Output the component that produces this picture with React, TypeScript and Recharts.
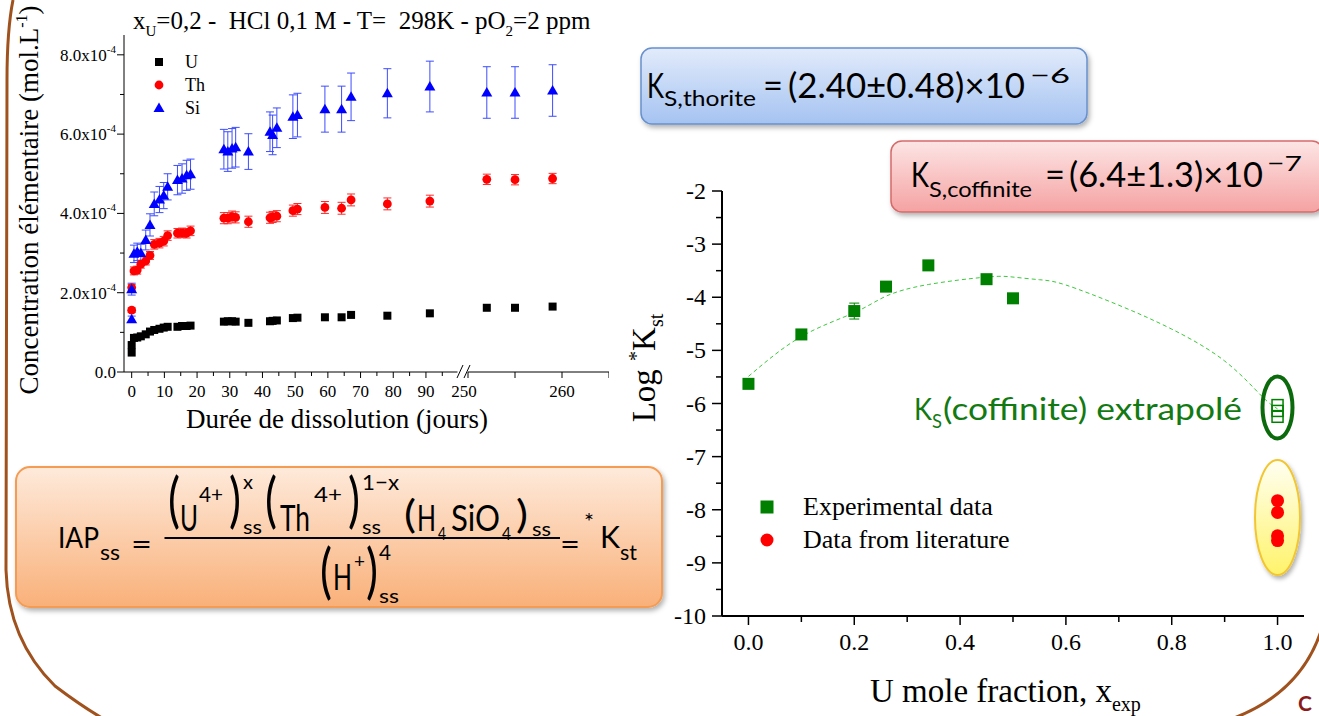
import React from "react";
import {
  ScatterChart,
  ComposedChart,
  Scatter,
  Line,
  XAxis,
  YAxis,
  ErrorBar,
  Legend,
} from "recharts";

const SERIF = "'Liberation Serif', 'Times New Roman', serif";
const SANS = "Lato, 'Open Sans', sans-serif";

// ---------- left panel: dissolution kinetics (concentrations in 1e-4 mol/L)
const days = [0, 0, 0.7, 1.7, 2.8, 4.3, 5.6, 6.9, 8.5, 9.8, 11, 14, 15.4, 16.8, 18, 28.2, 29.4, 30.7, 31.8, 35.7, 42.3, 43.1, 44.4, 49.3, 50.7, 59.1, 64.2, 67.1, 78.2, 91.2];
const uConc = [0.49, 0.68, 0.86, 0.87, 0.9, 0.95, 1.02, 1.06, 1.09, 1.12, 1.14, 1.14, 1.16, 1.16, 1.17, 1.27, 1.28, 1.28, 1.27, 1.24, 1.28, 1.29, 1.3, 1.36, 1.37, 1.38, 1.38, 1.44, 1.42, 1.48];
const thConc = [1.56, 2.13, 2.55, 2.57, 2.72, 2.8, 2.94, 3.22, 3.25, 3.3, 3.44, 3.5, 3.51, 3.5, 3.56, 3.88, 3.88, 3.92, 3.9, 3.79, 3.89, 3.91, 3.93, 4.07, 4.11, 4.15, 4.13, 4.34, 4.24, 4.31];
const thErr = [0.06, 0.08, 0.1, 0.1, 0.1, 0.1, 0.1, 0.12, 0.12, 0.12, 0.12, 0.12, 0.12, 0.12, 0.12, 0.14, 0.14, 0.14, 0.14, 0.14, 0.14, 0.14, 0.14, 0.14, 0.14, 0.15, 0.15, 0.15, 0.15, 0.15];
const siConc = [1.33, 2.09, 2.98, 3.03, 3.0, 3.33, 3.71, 4.24, 4.35, 4.45, 4.67, 4.84, 4.88, 4.96, 4.99, 5.62, 5.56, 5.64, 5.67, 5.56, 6.06, 5.98, 6.16, 6.44, 6.48, 6.63, 6.63, 6.94, 7.03, 7.2];
const siErr = [0.08, 0.15, 0.22, 0.22, 0.22, 0.25, 0.28, 0.3, 0.33, 0.33, 0.33, 0.37, 0.37, 0.38, 0.38, 0.5, 0.5, 0.5, 0.5, 0.45, 0.5, 0.5, 0.5, 0.55, 0.55, 0.58, 0.58, 0.6, 0.62, 0.64];

const lateDays = [252, 255, 259];
const lateU = [1.62, 1.62, 1.65];
const lateTh = [4.86, 4.85, 4.88];
const lateThErr = [0.13, 0.13, 0.13];
const lateSi = [7.05, 7.05, 7.1];
const lateSiErr = [0.65, 0.65, 0.65];

const concTicks = [0, 1, 2, 3, 4, 5, 6, 7, 8];
const dayTicks = [0, 5, 10, 15, 20, 25, 30, 35, 40, 45, 50, 55, 60, 65, 70, 75, 80, 85, 90, 95];
const lateTicks = [250, 255, 260, 265];
const elementNames = ["U", "Th", "Si"];

// ---------- right panel: log *Kst vs U mole fraction
const expX = [0, 0.1, 0.2, 0.26, 0.34, 0.45, 0.5];
const expLogK = [-5.63, -4.7, -4.26, -3.8, -3.4, -3.66, -4.02];
const expErr = [0.05, 0.05, 0.15, 0.05, 0.08, 0.08, 0.03];
const extrapX = [1, 1, 1];
const extrapLogK = [-6.03, -6.14, -6.25];
const litX = [1, 1, 1, 1];
const litLogK = [-7.83, -8.05, -8.49, -8.58];
const fitX = [0, 0.1, 0.2, 0.26, 0.34, 0.45, 0.5, 0.55, 0.6, 0.7, 0.8, 0.9, 0.97, 1.0];
const fitLogK = [-5.49, -4.74, -4.29, -3.98, -3.76, -3.62, -3.62, -3.67, -3.77, -4.15, -4.6, -5.2, -5.86, -6.1];
const seriesNames = ["Experimental data", "Data from literature"];

const fracTicks = [0, 0.1, 0.2, 0.3, 0.4, 0.5, 0.6, 0.7, 0.8, 0.9, 1.0];
const logTicks = [-10, -9.5, -9, -8.5, -8, -7.5, -7, -6.5, -6, -5.5, -5, -4.5, -4, -3.5, -3, -2.5, -2];

const rows = (xs: number[], ys: number[], es?: number[]) =>
  xs.map((d, i) => ({ day: d, v: ys[i], e: es ? es[i] : 0 }));
const xyRows = (xs: number[], ys: number[], es?: number[]) =>
  xs.map((x, i) => ({ x, y: ys[i], e: es ? es[i] : 0 }));

const BLACK_SQ = (p: any) => <rect x={p.cx - 4} y={p.cy - 4} width={8} height={8} fill="#000" />;
const RED_DOT = (p: any) => <circle cx={p.cx} cy={p.cy} r={4.4} fill="#ff0000" />;
const BLUE_TRI = (p: any) => (
  <polygon points={`${p.cx},${p.cy - 5.5} ${p.cx + 5.5},${p.cy + 4} ${p.cx - 5.5},${p.cy + 4}`} fill="#0000ff" />
);
const GREEN_SQ = (p: any) => <rect x={p.cx - 6} y={p.cy - 6} width={12} height={12} fill="#008000" />;
const HOLLOW_SQ = (p: any) => (
  <rect x={p.cx - 5.5} y={p.cy - 5.5} width={11} height={11} fill="none" stroke="#008000" strokeWidth={1.5} />
);
const BIG_RED = (p: any) => <circle cx={p.cx} cy={p.cy} r={6.5} fill="#ff0000" />;

function Mark({ type, color, big }: { type: string; color: string; big?: boolean }) {
  if (type === "square") {
    const s = big ? 13 : 8;
    return <rect x={9 - s / 2} y={9 - s / 2} width={s} height={s} fill={color} />;
  }
  if (type === "triangle") return <polygon points="9,3.5 14.5,13 3.5,13" fill={color} />;
  return <circle cx={9} cy={9} r={big ? 6.5 : 4.4} fill={color} />;
}

// legend content: keeps only the named series, in the given order
function makeLegend(order: string[], rowH: number, fontSize: number, gap: number, big?: boolean) {
  return (props: any) => {
    const items = (props.payload || [])
      .filter((p: any) => order.includes(p.value))
      .sort((a: any, b: any) => order.indexOf(a.value) - order.indexOf(b.value));
    return (
      <div>
        {items.map((p: any) => (
          <div key={p.value} style={{ display: "flex", alignItems: "center", height: rowH }}>
            <svg width={18} height={18}>
              <Mark type={p.type} color={p.color} big={big} />
            </svg>
            <span style={{ marginLeft: gap, fontFamily: SERIF, fontSize, color: "#000", lineHeight: 1 }}>{p.value}</span>
          </div>
        ))}
      </div>
    );
  };
}

function ConcTick(props: any) {
  const { x, y, payload } = props;
  const v = payload.value as number;
  const ax = x + 10;
  const major = v % 2 === 0;
  return (
    <g>
      <line x1={ax - (major ? 7 : 4)} x2={ax} y1={y} y2={y} stroke="#000" />
      {major && (
        <text x={ax - 8} y={y + 6} textAnchor="end" fontFamily={SERIF} fontSize={17} fill="#000">
          {v === 0 ? "0.0" : (
            <>
              {v.toFixed(1)}x10<tspan dy={-8} fontSize={11}>-4</tspan>
            </>
          )}
        </text>
      )}
    </g>
  );
}

function DayTick(props: any) {
  const { x, y, payload } = props;
  const v = payload.value as number;
  const ay = y - 9;
  const major = v % 10 === 0;
  return (
    <g>
      <line x1={x} x2={x} y1={ay} y2={ay + (major ? 6 : 4)} stroke="#000" />
      {major && v <= 90 && (
        <text x={x} y={ay + 25} textAnchor="middle" fontFamily={SERIF} fontSize={17} fill="#000">{v}</text>
      )}
    </g>
  );
}

function LateTick(props: any) {
  const { x, y, payload } = props;
  const v = payload.value as number;
  const ay = y - 9;
  return (
    <g>
      <line x1={x} x2={x} y1={ay} y2={ay + 6} stroke="#000" />
      {v % 10 === 0 && (
        <text x={x - (v === 250 ? 4 : 0)} y={ay + 25} textAnchor="middle" fontFamily={SERIF} fontSize={17} fill="#000">{v}</text>
      )}
    </g>
  );
}

function LogTick(props: any) {
  const { x, y, payload } = props;
  const v = payload.value as number;
  const ax = x + 14;
  const major = Number.isInteger(v);
  return (
    <g>
      <line x1={ax - (major ? 10 : 6)} x2={ax} y1={y} y2={y} stroke="#000" strokeWidth={1.5} />
      {major && (
        <text x={ax - 16} y={y + 8} textAnchor="end" fontFamily={SERIF} fontSize={24} fill="#000">{v}</text>
      )}
    </g>
  );
}

function FracTick(props: any) {
  const { x, y, payload } = props;
  const v = payload.value as number;
  const ay = y - 12;
  const major = Math.round(v * 10) % 2 === 0;
  return (
    <g>
      <line x1={x} x2={x} y1={ay} y2={ay + (major ? 9 : 6)} stroke="#000" strokeWidth={1.5} />
      {major && (
        <text x={x} y={ay + 34} textAnchor="middle" fontFamily={SERIF} fontSize={24} fill="#000">{v.toFixed(1)}</text>
      )}
    </g>
  );
}

function T({ x, y, s, w, children, family = SANS, fill = "#000", weight }: any) {
  return (
    <text x={x} y={y} fontSize={s} fontFamily={family} fill={fill} fontWeight={weight}
      textLength={w} lengthAdjust={w ? "spacingAndGlyphs" : undefined}>
      {children}
    </text>
  );
}

const abs = (left: number, top: number, z = 1): React.CSSProperties => ({ position: "absolute", left, top, zIndex: z });

export default function App() {
  const uRows = rows(days, uConc);
  const thRows = rows(days, thConc, thErr);
  const siRows = rows(days, siConc, siErr);
  const lateURows = rows(lateDays, lateU);
  const lateThRows = rows(lateDays, lateTh, lateThErr);
  const lateSiRows = rows(lateDays, lateSi, lateSiErr);

  const expRows = xyRows(expX, expLogK, expErr);
  const extrapRows = xyRows(extrapX, extrapLogK);
  const litRows = xyRows(litX, litLogK);
  const fitRows = xyRows(fitX, fitLogK);

  return (
    <div style={{ position: "absolute", left: 0, top: 0, width: 1319, height: 716, overflow: "hidden", background: "#fff" }}>
      {/* background decorations */}
      <svg width={1319} height={716} style={abs(0, 0, 0)}>
        <defs>
          <linearGradient id="gYellow" x1="0" y1="0" x2="0" y2="1">
            <stop offset="0" stopColor="#fffff2" />
            <stop offset="1" stopColor="#fff36a" />
          </linearGradient>
          <filter id="shY" x="-50%" y="-50%" width="200%" height="200%">
            <feDropShadow dx="2" dy="3" stdDeviation="2" floodColor="#000" floodOpacity="0.3" />
          </filter>
        </defs>
        <path d="M 13 0 Q 7 30 7 80 L 6 570 Q 8 640 55 686 Q 80 705 102 718" fill="none" stroke="#a0521e" strokeWidth={3} />
        <path d="M 1322 628 Q 1302 692 1234 718" fill="none" stroke="#a0521e" strokeWidth={3} />
        <ellipse cx={1277.5} cy={517.5} rx={22.5} ry={57.5} fill="url(#gYellow)" stroke="#f2c632" strokeWidth={2} filter="url(#shY)" />
      </svg>

      {/* left panel, first axis segment */}
      <div style={abs(0, 0)}>
        <ScatterChart width={460} height={402} margin={{ top: 35, right: 2.5, bottom: 0, left: 0 }}>
          <XAxis type="number" dataKey="day" domain={[-2.35, 99.65]} ticks={dayTicks} interval={0} height={30}
            tick={DayTick} tickLine={false} tickSize={6} tickMargin={3} axisLine={{ stroke: "#000" }} />
          <YAxis type="number" dataKey="v" domain={[0, 8.5]} ticks={concTicks} interval={0} width={124}
            tick={ConcTick} tickLine={false} tickSize={7} tickMargin={3} axisLine={{ stroke: "#000" }} />
          <Scatter name="U" data={uRows} fill="#000000" legendType="square" shape={BLACK_SQ} isAnimationActive={false} />
          <Scatter name="Th" data={thRows} fill="#ff0000" legendType="circle" shape={RED_DOT} isAnimationActive={false}>
            <ErrorBar dataKey="e" direction="y" width={4} stroke="#ff2a2a" strokeWidth={1} />
          </Scatter>
          <Scatter name="Si" data={siRows} fill="#0000ff" legendType="triangle" shape={BLUE_TRI} isAnimationActive={false}>
            <ErrorBar dataKey="e" direction="y" width={4} stroke="#3d4dff" strokeWidth={1} />
          </Scatter>
          <Legend layout="vertical" align="center" verticalAlign="middle"
            wrapperStyle={{ left: 150, top: 50.5, width: 60 }} content={makeLegend(elementNames, 23, 18, 17)} />
        </ScatterChart>
      </div>

      {/* left panel, second axis segment (after the break) */}
      <div style={abs(448, 0)}>
        <ScatterChart width={161} height={402} margin={{ top: 35, right: 0, bottom: 0, left: 20 }}>
          <XAxis type="number" dataKey="day" domain={[250, 265]} ticks={lateTicks} interval={0} height={30}
            tick={LateTick} tickLine={false} tickSize={6} tickMargin={3} axisLine={{ stroke: "#000" }} />
          <YAxis type="number" dataKey="v" domain={[0, 8.5]} hide />
          <Scatter data={lateURows} fill="#000" shape={BLACK_SQ} isAnimationActive={false} />
          <Scatter data={lateThRows} fill="#ff0000" shape={RED_DOT} isAnimationActive={false}>
            <ErrorBar dataKey="e" direction="y" width={4} stroke="#ff2a2a" strokeWidth={1} />
          </Scatter>
          <Scatter data={lateSiRows} fill="#0000ff" shape={BLUE_TRI} isAnimationActive={false}>
            <ErrorBar dataKey="e" direction="y" width={4} stroke="#3d4dff" strokeWidth={1} />
          </Scatter>
        </ScatterChart>
      </div>

      {/* right panel */}
      <div style={abs(620, 170)}>
        <ComposedChart width={700} height={500} margin={{ top: 21, right: 16, bottom: 24, left: 0 }}>
          <XAxis type="number" dataKey="x" domain={[-0.05, 1.05]} ticks={fracTicks} interval={0} height={30}
            tick={FracTick} tickLine={false} tickSize={8} tickMargin={4} axisLine={{ stroke: "#000", strokeWidth: 2 }} />
          <YAxis type="number" dataKey="y" domain={[-10, -2]} ticks={logTicks} interval={0} width={102}
            tick={LogTick} tickLine={false} tickSize={10} tickMargin={4} axisLine={{ stroke: "#000", strokeWidth: 2 }} />
          <Line data={fitRows} dataKey="y" type="natural" stroke="#3cc83c" strokeWidth={1}
            strokeDasharray="4 3" dot={false} legendType="none" isAnimationActive={false} />
          <Scatter name="Experimental data" data={expRows} dataKey="y" fill="#008000" legendType="square"
            shape={GREEN_SQ} isAnimationActive={false}>
            <ErrorBar dataKey="e" direction="y" width={5} stroke="#008000" strokeWidth={1} />
          </Scatter>
          <Scatter data={extrapRows} dataKey="y" fill="#008000" legendType="none" shape={HOLLOW_SQ} isAnimationActive={false} />
          <Scatter name="Data from literature" data={litRows} dataKey="y" fill="#ff0000" legendType="circle"
            shape={BIG_RED} isAnimationActive={false} />
          <Legend layout="vertical" align="center" verticalAlign="middle"
            wrapperStyle={{ left: 138, top: 320.5, width: 260 }} content={makeLegend(seriesNames, 33, 26, 27, true)} />
        </ComposedChart>
      </div>

      {/* foreground: titles, boxes, annotations */}
      <svg width={1319} height={716} style={{ ...abs(0, 0, 2), pointerEvents: "none" }}>
        <defs>
          <linearGradient id="gBlue" x1="0" y1="0" x2="0" y2="1">
            <stop offset="0" stopColor="#e2ebfb" />
            <stop offset="1" stopColor="#a5c3f1" />
          </linearGradient>
          <linearGradient id="gRed" x1="0" y1="0" x2="0" y2="1">
            <stop offset="0" stopColor="#fde5e5" />
            <stop offset="1" stopColor="#f5a2a2" />
          </linearGradient>
          <linearGradient id="gOrange" x1="0" y1="0" x2="0" y2="1">
            <stop offset="0" stopColor="#feeadb" />
            <stop offset="1" stopColor="#f9b079" />
          </linearGradient>
          <filter id="sh" x="-10%" y="-20%" width="120%" height="150%">
            <feDropShadow dx="2" dy="3" stdDeviation="2.5" floodColor="#000" floodOpacity="0.3" />
          </filter>
        </defs>

        {/* title of left panel */}
        <text x={133} y={29} fontFamily={SERIF} fontSize={25} fill="#000" style={{ whiteSpace: "pre" }}>
          x<tspan dy={7} fontSize={15}>U</tspan>
          <tspan dy={-7}>=0,2 -  HCl 0,1 M - T=  298K - pO</tspan>
          <tspan dy={7} fontSize={15}>2</tspan>
          <tspan dy={-7}>=2 ppm</tspan>
        </text>
        {/* left axis titles */}
        <text transform="translate(38,200) rotate(-90)" textAnchor="middle" fontFamily={SERIF} fontSize={27} fill="#000">
          Concentration élémentaire (mol.L<tspan dy={-11} fontSize={16}>-1</tspan><tspan dy={11}>)</tspan>
        </text>
        <text x={337} y={428} textAnchor="middle" fontFamily={SERIF} fontSize={27} fill="#000">Durée de dissolution (jours)</text>
        {/* axis break */}
        <line x1={457} y1={378} x2={463} y2={365} stroke="#000" strokeWidth={1} />
        <line x1={464} y1={378} x2={470} y2={365} stroke="#000" strokeWidth={1} />

        {/* right axis titles */}
        <text transform="translate(655,368) rotate(-90)" textAnchor="middle" fontFamily={SERIF} fontSize={33} fill="#000">
          Log <tspan dy={-12} fontSize={20}>*</tspan><tspan dy={12}>K</tspan><tspan dy={8} fontSize={20}>st</tspan>
        </text>
        <text x={870} y={702} fontFamily={SERIF} fontSize={33} fill="#000">
          U mole fraction, x<tspan dy={9} fontSize={20}>exp</tspan>
        </text>

        {/* extrapolated coffinite annotation */}
        <ellipse cx={1277.5} cy={407.5} rx={15} ry={31} fill="none" stroke="#0b6a0b" strokeWidth={4} />
        <T x={914} y={420} s={30} w={18} fill="#137a13">K</T>
        <T x={932} y={428} s={20} w={10} fill="#137a13">S</T>
        <T x={943} y={420} s={30} w={299} fill="#137a13">(coffinite) extrapolé</T>

        {/* thorite box */}
        <rect x={641} y={48} width={446} height={76} rx={11} fill="url(#gBlue)" stroke="#6890cc" strokeWidth={1.5} filter="url(#sh)" />
        <T x={647} y={98} s={34} w={17}>K</T>
        <T x={664} y={106} s={22} w={92}>S,thorite</T>
        <T x={763} y={98} s={34} w={20}>=</T>
        <T x={788} y={98} s={34} w={237}>(2.40±0.48)×10</T>
        <T x={1030} y={83} s={22} w={40}>−6</T>

        {/* coffinite box */}
        <rect x={891} y={141} width={432} height={71} rx={11} fill="url(#gRed)" stroke="#d56b6b" strokeWidth={1.5} filter="url(#sh)" />
        <T x={911} y={187} s={34} w={18}>K</T>
        <T x={929} y={197} s={22} w={103}>S,coffinite</T>
        <T x={1045} y={187} s={34} w={20}>=</T>
        <T x={1069} y={187} s={34} w={194}>(6.4±1.3)×10</T>
        <T x={1267} y={171} s={22} w={35}>−7</T>

        {/* IAP formula box */}
        <rect x={16} y={467} width={646} height={140} rx={14} fill="url(#gOrange)" stroke="#f49c52" strokeWidth={2} filter="url(#sh)" />
        <T x={58} y={548} s={28} w={41}>IAP</T>
        <T x={100} y={560} s={22} w={20}>ss</T>
        <T x={131} y={555} s={30} w={21}>=</T>
        <T x={168} y={521} s={60} w={12}>(</T>
        <T x={180} y={531} s={36} w={18}>U</T>
        <T x={199} y={502} s={22} w={24}>4+</T>
        <T x={229} y={521} s={60} w={12}>)</T>
        <T x={243} y={489} s={20} w={10}>x</T>
        <T x={243} y={534} s={20} w={19}>ss</T>
        <T x={265} y={521} s={60} w={12}>(</T>
        <T x={280} y={531} s={36} w={30}>Th</T>
        <T x={314} y={502} s={22} w={28}>4+</T>
        <T x={348} y={521} s={60} w={12}>)</T>
        <T x={362} y={490} s={22} w={37}>1−x</T>
        <T x={362} y={534} s={20} w={19}>ss</T>
        <T x={404} y={528} s={38} w={12}>(</T>
        <T x={417} y={531} s={36} w={19}>H</T>
        <T x={438} y={540} s={18} w={8}>4</T>
        <T x={451} y={531} s={36} w={49}>SiO</T>
        <T x={502} y={540} s={18} w={9}>4</T>
        <T x={516} y={528} s={38} w={12}>)</T>
        <T x={532} y={536} s={20} w={19}>ss</T>
        <line x1={164.5} y1={538} x2={560} y2={538} stroke="#000" strokeWidth={2} />
        <T x={320} y={592} s={60} w={12}>(</T>
        <T x={333} y={590} s={36} w={19}>H</T>
        <T x={354} y={568} s={20} w={11}>+</T>
        <T x={366} y={592} s={60} w={12}>)</T>
        <T x={379} y={560} s={22} w={12}>4</T>
        <T x={379} y={603} s={20} w={20}>ss</T>
        <T x={560} y={555} s={30} w={20}>=</T>
        <T x={584} y={530} s={24} w={10}>*</T>
        <T x={600} y={548} s={30} w={20}>K</T>
        <T x={620} y={560} s={22} w={17}>st</T>

        <T x={1298} y={711} s={21} weight="bold" fill="#8b1a1a">C</T>
      </svg>
    </div>
  );
}
